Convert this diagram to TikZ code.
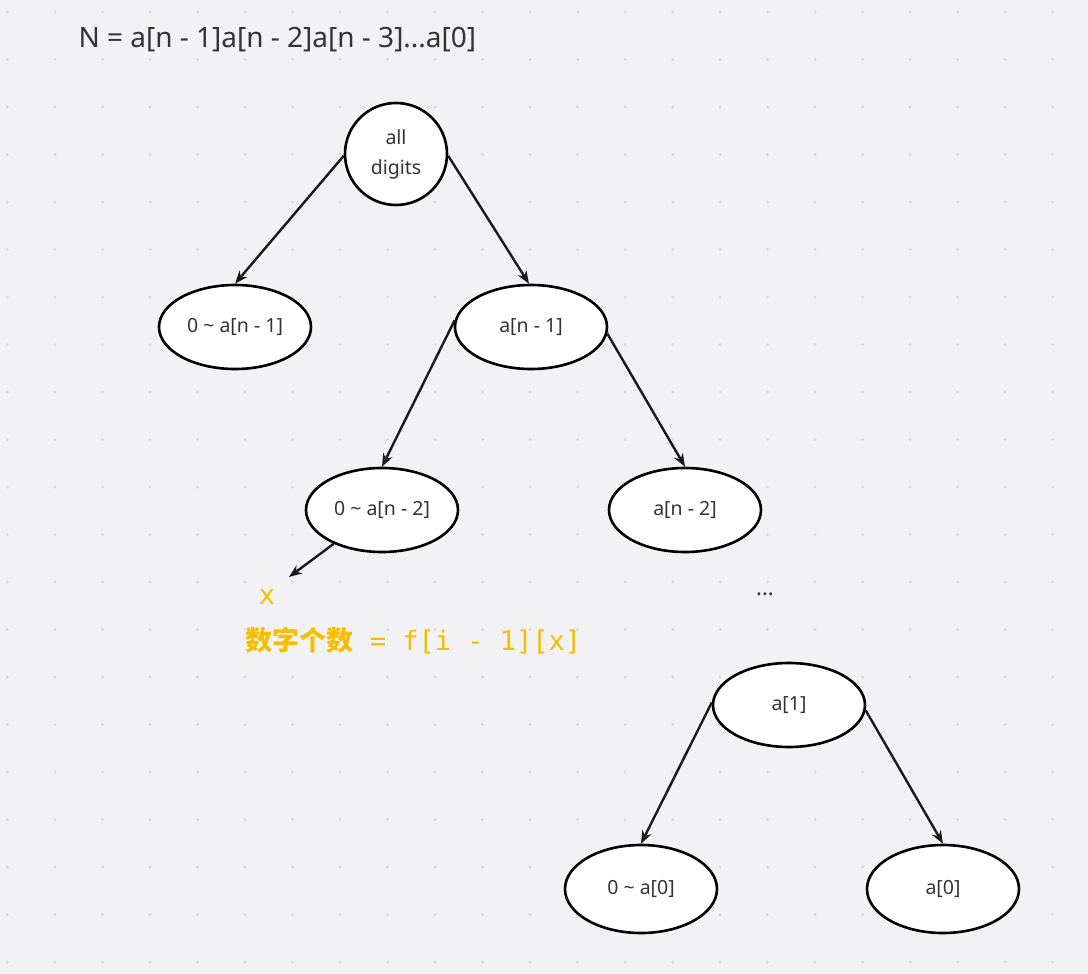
\documentclass[tikz,border=0pt]{standalone}
\usepackage{fontspec}
\setmainfont{Noto Sans}
\newfontfamily\cjk{Noto Sans CJK SC}
\newfontfamily\monof{DejaVu Sans Mono}
\usetikzlibrary{shapes.geometric,arrows.meta}
\definecolor{bg}{HTML}{F2F2F4}
\definecolor{dotc}{HTML}{D8D8DC}
\definecolor{txt}{HTML}{333333}
\definecolor{yel}{HTML}{F5BE00}
\tikzset{
  ell/.style={ellipse,draw=black,line width=2.6pt,fill=white,minimum width=152pt,minimum height=84pt,inner sep=0pt,font=\fontsize{19.5}{22}\selectfont,text=txt},
  arr/.style={-{Stealth[length=13pt,width=10pt]},line width=2.4pt,black!90},
}
\begin{document}
\begin{tikzpicture}[x=1pt,y=-1pt]
\fill[bg] (0,0) rectangle (1088,974);
\useasboundingbox (0,0) rectangle (1088,974);
\foreach \i in {0,...,22}{\foreach \j in {0,...,20}{
  \fill[dotc] (7.5+47.5*\i,12+47.5*\j) circle (1.5pt);}}
\node[anchor=west,font=\fontsize{28}{30}\selectfont,text=txt] (title) at (75,40) {N = a[n - 1]a[n - 2]a[n - 3]...a[0]};
\node[circle,draw=black,line width=2.6pt,fill=white,minimum size=102pt,inner sep=0pt,align=center,font=\fontsize{19.5}{30}\selectfont,text=txt] (root) at (396,154) {all\\digits};
\node[ell] (l1) at (235,327) {0 \char`~{} a[n - 1]};
\node[ell] (r1) at (531,327) {a[n - 1]};
\node[ell] (l2) at (382,510) {0 \char`~{} a[n - 2]};
\node[ell] (r2) at (685,510) {a[n - 2]};
\node[ell] (a1) at (789,705) {a[1]};
\node[ell,minimum height=88pt] (l0) at (641,889) {0 \char`~{} a[0]};
\node[ell,minimum height=88pt] (r0) at (943,889) {a[0]};
\coordinate (xe) at (289,577);
\draw[arr] (root.182) -- (l1.north);
\draw[arr] (root.-2) -- ([xshift=-2pt]r1.north);
\draw[arr] (r1.175) -- (l2.north);
\draw[arr] (r1.-5) -- (r2.north);
\draw[arr] (l2.215) -- (xe);
\draw[arr] (a1.178) -- (l0.north);
\draw[arr] (a1.-4) -- (r0.north);
\node[text=yel,font=\monof\fontsize{27}{29}\selectfont] (x) at (267,597) {x};
\node[anchor=west,text=yel,font=\monof\fontsize{27}{29}\selectfont] (f) at (242,641) {{\cjk\bfseries 数字个数} = f[i - 1][x]};
\node[text=txt,font=\fontsize{22}{24}\selectfont] (dots) at (765,594) {...};
\end{tikzpicture}
\end{document}
